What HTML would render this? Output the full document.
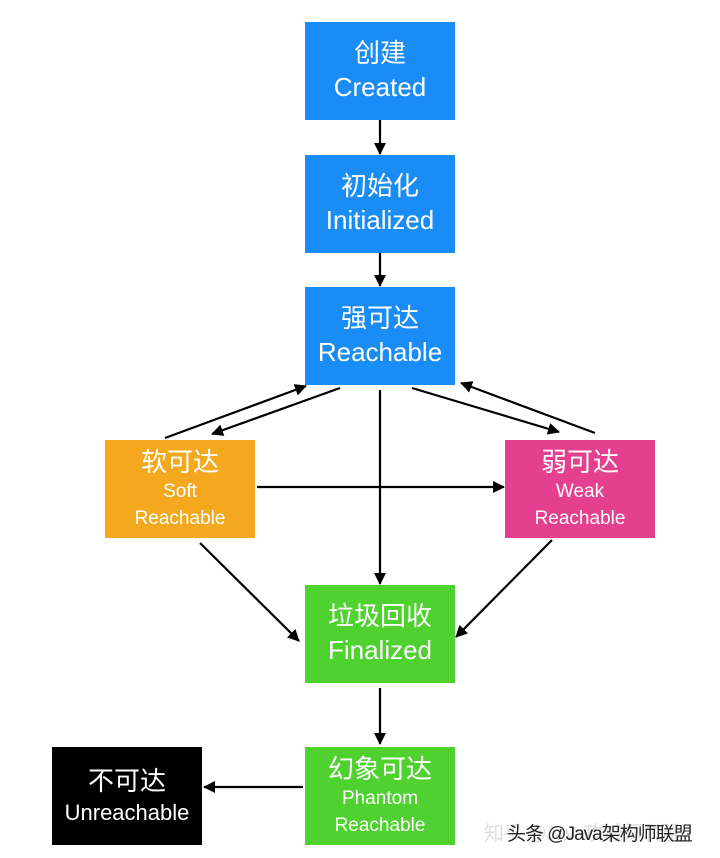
<!DOCTYPE html>
<html><head><meta charset="utf-8"><style>
body{margin:0;width:720px;height:858px;background:#fff;position:relative;overflow:hidden;font-family:"Liberation Sans","Noto Sans CJK SC",sans-serif}
.b{position:absolute;width:150px;height:98px;color:#fff;text-align:center;display:flex;flex-direction:column;justify-content:center;line-height:1.3}
.big{font-size:26px}.sm{font-size:19px;line-height:1.4}
.bl{background:#1a8cf5}.or{background:#f3a81e}.pk{background:#e4408f}.gr{background:#4fd12f}.bk{background:#000}
svg{position:absolute;left:0;top:0}
</style></head><body>
<div class="b bl" style="left:305px;top:22px"><div class="big">创建</div><div class="big">Created</div></div>
<div class="b bl" style="left:305px;top:155px"><div class="big">初始化</div><div class="big">Initialized</div></div>
<div class="b bl" style="left:305px;top:287px"><div class="big">强可达</div><div class="big">Reachable</div></div>
<div class="b or" style="left:105px;top:440px"><div class="big">软可达</div><div class="sm">Soft<br>Reachable</div></div>
<div class="b pk" style="left:505px;top:440px"><div class="big">弱可达</div><div class="sm">Weak<br>Reachable</div></div>
<div class="b gr" style="left:305px;top:585px"><div class="big">垃圾回收</div><div class="big">Finalized</div></div>
<div class="b gr" style="left:305px;top:747px"><div class="big">幻象可达</div><div class="sm">Phantom<br>Reachable</div></div>
<div class="b bk" style="left:52px;top:747px"><div class="big">不可达</div><div class="big" style="font-size:22px">Unreachable</div></div>
<svg width="720" height="858"><defs><marker id="a" markerWidth="12" markerHeight="12" refX="11" refY="6" orient="auto" markerUnits="userSpaceOnUse"><path d="M0,0 L12,6 L0,12 z" fill="#000"/></marker></defs>
<g stroke="#000" stroke-width="2.2" marker-end="url(#a)">
<line x1="380" y1="120" x2="380" y2="154"/>
<line x1="380" y1="253" x2="380" y2="286"/>
<line x1="165" y1="438" x2="306" y2="386"/>
<line x1="340" y1="388" x2="212" y2="434"/>
<line x1="412" y1="388" x2="559" y2="432"/>
<line x1="595" y1="433" x2="461" y2="383"/>
<line x1="257" y1="487" x2="504" y2="487"/>
<line x1="380" y1="390" x2="380" y2="584"/>
<line x1="200" y1="543" x2="299" y2="641"/>
<line x1="552" y1="540" x2="456" y2="637"/>
<line x1="380" y1="688" x2="380" y2="744"/>
<line x1="303" y1="787" x2="204" y2="787"/>
</g></svg>
<div style="position:absolute;left:484px;top:817px;font-size:20px;color:#ddd;letter-spacing:-1px">知乎 @Java攻城师联盟</div>
<div style="position:absolute;left:507px;top:819px;font-size:19px;color:#222;letter-spacing:-1px;text-shadow:1px 1px 0 #fff">头条 @Java架构师联盟</div>
</body></html>
